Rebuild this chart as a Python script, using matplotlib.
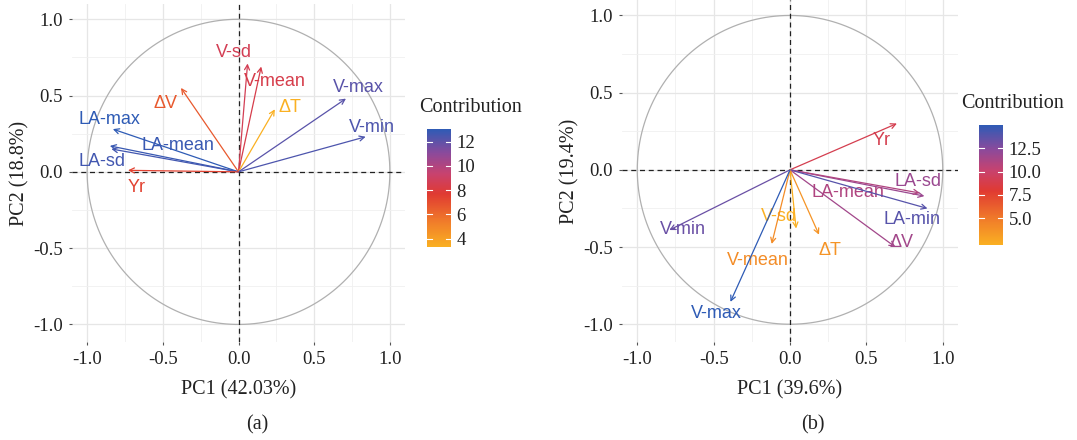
import matplotlib
matplotlib.use("Agg")
import matplotlib.pyplot as plt
import numpy as np
from matplotlib.colors import LinearSegmentedColormap, Normalize
from matplotlib.cm import ScalarMappable

# ---------------- data ----------------
# Panel (a)
vars_a = ["V-sd", "V-mean", "ΔV", "ΔT", "V-max", "V-min", "LA-max", "LA-mean", "LA-sd", "Yr"]
pc1_a = [0.06, 0.15, -0.38, 0.24, 0.71, 0.84, -0.83, -0.85, -0.84, -0.73]
pc2_a = [0.71, 0.69, 0.55, 0.41, 0.48, 0.23, 0.28, 0.17, 0.15, 0.01]
contrib_a = [8.6, 8.4, 6.6, 3.3, 12.1, 12.4, 13.05, 12.8, 12.6, 7.4]
xlabel_a = "PC1 (42.03%)"
ylabel_a = "PC2 (18.8%)"
cbar_ticks_a = [4, 6, 8, 10, 12]
cbar_labels_a = ["4", "6", "8", "10", "12"]

# Panel (b)
vars_b = ["Yr", "LA-sd", "LA-mean", "LA-min", "ΔV", "V-min", "V-sd", "V-mean", "ΔT", "V-max"]
pc1_b = [0.70, 0.88, 0.85, 0.90, 0.69, -0.79, 0.04, -0.12, 0.19, -0.39]
pc2_b = [0.30, -0.17, -0.15, -0.25, -0.50, -0.39, -0.38, -0.48, -0.42, -0.855]
contrib_b = [9.0, 11.8, 11.0, 13.8, 11.5, 13.3, 2.14, 4.0, 3.6, 15.0]
xlabel_b = "PC1 (39.6%)"
ylabel_b = "PC2 (19.4%)"
cbar_ticks_b = [5.0, 7.5, 10.0, 12.5]
cbar_labels_b = ["5.0", "7.5", "10.0", "12.5"]

axis_ticks = [-1.0, -0.5, 0.0, 0.5, 1.0]
minor_ticks = [-0.75, -0.25, 0.25, 0.75]

# label placement (layout only)
labpos_a = [(-0.03, 0.785), (0.24, 0.59), (-0.48, 0.45), (0.34, 0.42), (0.79, 0.55),
            (0.88, 0.29), (-0.85, 0.345), (-0.40, 0.17), (-0.90, 0.07), (-0.67, -0.10)]
labpos_b = [(0.60, 0.19), (0.84, -0.075), (0.38, -0.147), (0.80, -0.32), (0.73, -0.47),
            (-0.70, -0.385), (-0.07, -0.30), (-0.21, -0.585), (0.26, -0.52), (-0.48, -0.93)]

# ---------------- style ----------------
cmap = LinearSegmentedColormap.from_list(
    "contrib",
    [(0.0, "#FAB022"), (0.22, "#F07A2A"), (0.45, "#E03A32"),
     (0.62, "#C8426E"), (0.80, "#8A4A9C"), (1.0, "#2E5BB5")])

SERIF = "Liberation Serif"
SANS = "Liberation Sans"

fig = plt.figure(figsize=(10.77, 4.40), dpi=100)
W, H = 1077, 440


def px_axes(l, t, r, b):
    return fig.add_axes([l / W, 1 - b / H, (r - l) / W, (b - t) / H])


def panel(ax, names, xs, ys, contrib, labpos, xlabel, ylabel):
    norm = Normalize(vmin=min(contrib), vmax=max(contrib))
    ax.set_xlim(-1.1, 1.1)
    ax.set_ylim(-1.115, 1.1)
    ax.set_xticks(axis_ticks)
    ax.set_yticks(axis_ticks)
    ax.set_xticks(minor_ticks, minor=True)
    ax.set_yticks(minor_ticks, minor=True)
    ax.grid(True, which="major", color="#E6E6E6", lw=0.9)
    ax.grid(True, which="minor", color="#F0F0F0", lw=0.6)
    ax.set_axisbelow(True)
    for s in ax.spines.values():
        s.set_visible(False)
    ax.tick_params(which="major", length=2.5, width=0.8, color="#555555", pad=4)
    ax.tick_params(which="minor", length=0)
    ax.set_xticklabels([f"{v:.1f}" for v in axis_ticks], fontfamily=SERIF, fontsize=13.5, color="#222222")
    ax.set_yticklabels([f"{v:.1f}" for v in axis_ticks], fontfamily=SERIF, fontsize=13.5, color="#222222")
    ax.set_xlabel(xlabel, fontfamily=SERIF, fontsize=14.5, color="#222222", labelpad=9)
    ax.set_ylabel(ylabel, fontfamily=SERIF, fontsize=14.5, color="#222222", labelpad=3)
    t = np.linspace(0, 2 * np.pi, 400)
    ax.plot(np.cos(t), np.sin(t), color="#B0B0B0", lw=0.9)
    ax.axhline(0, color="#222222", lw=0.9, ls=(0, (4, 3)))
    ax.axvline(0, color="#222222", lw=0.9, ls=(0, (4, 3)))
    for n, x, y, c, lp in zip(names, xs, ys, contrib, labpos):
        col = cmap(norm(c))
        ax.annotate("", xy=(x, y), xytext=(0, 0),
                    arrowprops=dict(arrowstyle="->", color=col, lw=0.9,
                                    shrinkA=0, shrinkB=0, mutation_scale=9))
        ax.text(lp[0], lp[1], n, color=col, fontfamily=SANS, fontsize=13,
                ha="center", va="center")
    return norm


def cbar(cax, norm, ticks, labels, title_xy):
    sm = ScalarMappable(norm=norm, cmap=cmap)
    cb = fig.colorbar(sm, cax=cax)
    cb.outline.set_visible(False)
    cb.set_ticks(ticks)
    cb.set_ticklabels(labels)
    cax.tick_params(length=0, pad=4)
    for lab in cax.get_yticklabels():
        lab.set_fontfamily(SERIF)
        lab.set_fontsize(13.5)
        lab.set_color("#222222")
    for tv in ticks:
        cax.axhline(tv, xmin=0, xmax=0.2, color="white", lw=0.8)
        cax.axhline(tv, xmin=0.8, xmax=1, color="white", lw=0.8)
    fig.text(title_xy[0] / W, 1 - title_xy[1] / H, "Contribution", fontfamily=SERIF,
             fontsize=14.5, color="#222222", ha="center", va="center")


ax_a = px_axes(72, 4, 405, 342)
norm_a = panel(ax_a, vars_a, pc1_a, pc2_a, contrib_a, labpos_a, xlabel_a, ylabel_a)
cax_a = px_axes(427, 129, 451, 247)
cbar(cax_a, norm_a, cbar_ticks_a, cbar_labels_a, (471, 107))

ax_b = px_axes(622, 0, 958, 342)
norm_b = panel(ax_b, vars_b, pc1_b, pc2_b, contrib_b, labpos_b, xlabel_b, ylabel_b)
cax_b = px_axes(979, 125, 1003, 245)
cbar(cax_b, norm_b, cbar_ticks_b, cbar_labels_b, (1013, 104))

fig.text(257 / W, 1 - 425 / H, "(a)", fontfamily=SERIF, fontsize=14.5, ha="center", va="center", color="#222222")
fig.text(813 / W, 1 - 425 / H, "(b)", fontfamily=SERIF, fontsize=14.5, ha="center", va="center", color="#222222")

fig.savefig("out.png", dpi=100)
